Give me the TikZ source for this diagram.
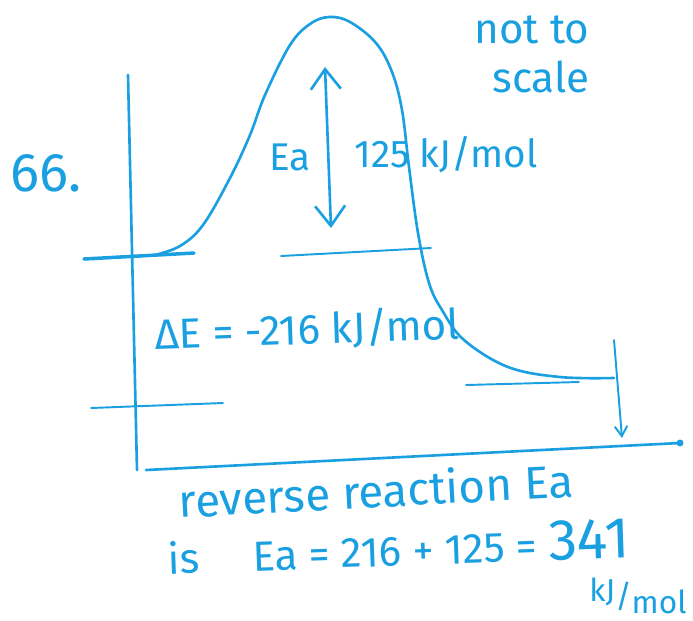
\documentclass[tikz,border=0pt]{standalone}
\usepackage{fontspec}
\setmainfont{Fira Sans}
\usepackage{xcolor}
\usetikzlibrary{arrows.meta}
\definecolor{inkblue}{HTML}{1AA0E0}

\begin{document}
\begin{tikzpicture}[
  x=0.02cm,y=-0.02cm,
  ink/.style={draw=inkblue,line width=1.5pt,line cap=round},
  thin ink/.style={ink,line width=1.1pt},
  note/.style={text=inkblue,inner sep=0pt,font=\fontsize{22}{26}\selectfont},
  big note/.style={note,font=\fontsize{26}{30}\selectfont},
  barb/.style={ink,{Straight Barb[length=4mm,width=6mm]}-{Straight Barb[length=4mm,width=6mm]}}
]
\useasboundingbox (0,0) rectangle (693,620);

% axes
\coordinate (ytop) at (128,75);
\coordinate (ybot) at (137,470);
\coordinate (xleft) at (146,470);
\coordinate (xright) at (680,443);
\draw[ink] (ytop) -- (ybot);
\draw[ink] (xleft) -- (xright);
\fill[inkblue] (xright) circle (3.5);

% energy levels
\draw[ink,line width=2pt] (84,259) -- (194,253);
\draw[thin ink] (281,256) -- (431,248);
\draw[thin ink] (91,408) -- (223,403);
\draw[thin ink] (466,385) -- (579,382);

% reaction path
\draw[ink] plot[smooth,tension=0.6] coordinates {
  (155,255) (180,246) (203,225) (230,178) (250,135) (265,95) (290,45)
  (310,24) (329,17) (350,22) (376,43) (392,72) (402,110) (409,167)
  (418,233) (429,283) (442,310) (464,340) (508,367) (560,377) (614,378)};

% activation energy
\coordinate (eatop) at (325,67);
\coordinate (eabot) at (331,228);
\draw[barb] (eatop) -- (eabot);

% product drop
\coordinate (droptop) at (614,340);
\coordinate (dropbot) at (622,438);
\draw[thin ink,-{Straight Barb[length=2mm,width=2.5mm]}] (droptop) -- (dropbot);

% labels
\node[note,font=\fontsize{31}{34}\selectfont] (num) at (46,173) {66.};
\node[note,align=right,font=\fontsize{24}{28}\selectfont] (scale) at (532,54) {not to\\scale};
\node[note] (ea) at (290,157) {Ea};
\node[note] (eaval) at (446,155) {125 kJ/mol};
\node[note,rotate=2,font=\fontsize{24}{28}\selectfont] (de) at (307,330) {ΔE = -216 kJ/mol};
\node[big note,rotate=3] (rev) at (376,490) {reverse reaction Ea};
\node[note,rotate=2,font=\fontsize{24}{28}\selectfont,anchor=base west] (revval) at (168,574)
  {is\quad\ Ea = 216 + 125 = {\fontsize{33}{38}\selectfont 341}};
\node[note,font=\fontsize{18}{22}\selectfont] (unit) at (638,596)
  {\raisebox{0.35ex}{kJ}/\raisebox{-0.35ex}{mol}};
\end{tikzpicture}
\end{document}
